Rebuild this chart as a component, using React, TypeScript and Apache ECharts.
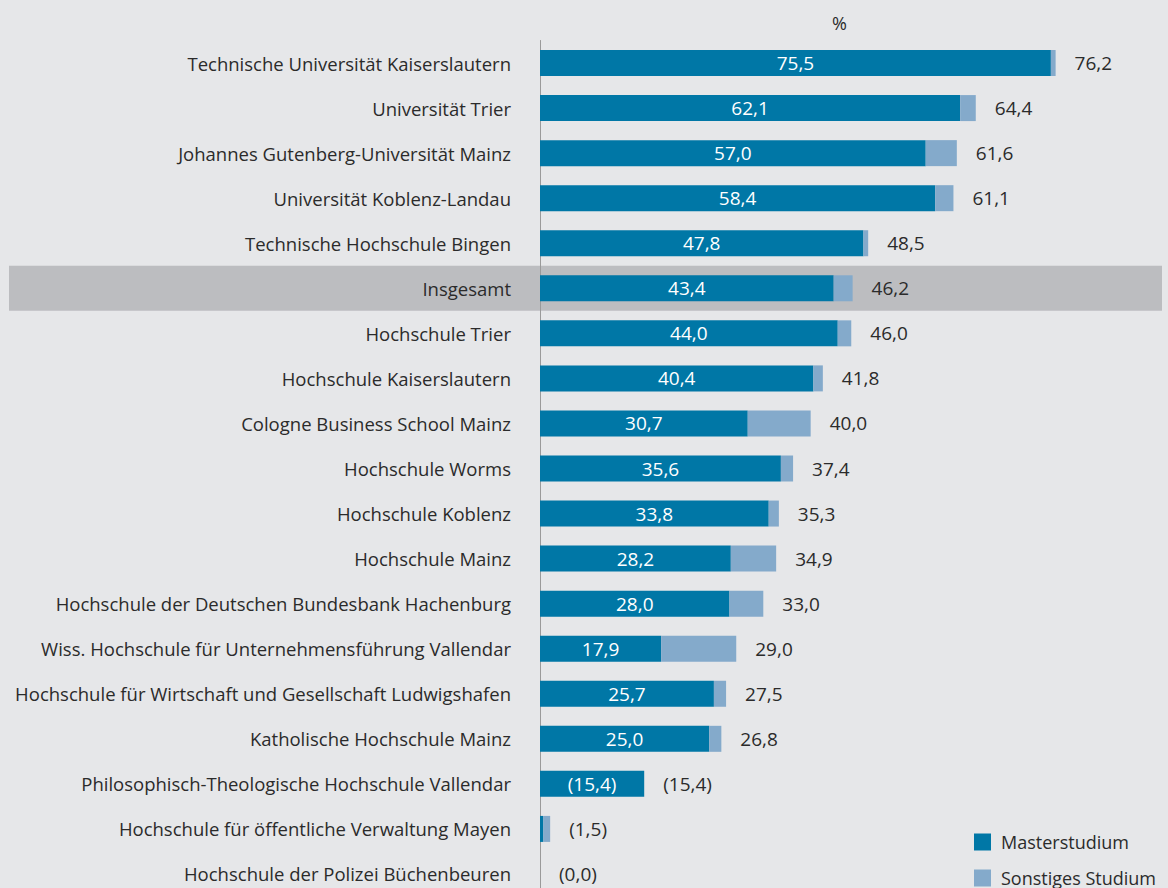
import React, { useEffect, useRef } from "react";
import * as echarts from "echarts";

const categories = [
  "Technische Universität Kaiserslautern",
  "Universität Trier",
  "Johannes Gutenberg-Universität Mainz",
  "Universität Koblenz-Landau",
  "Technische Hochschule Bingen",
  "Insgesamt",
  "Hochschule Trier",
  "Hochschule Kaiserslautern",
  "Cologne Business School Mainz",
  "Hochschule Worms",
  "Hochschule Koblenz",
  "Hochschule Mainz",
  "Hochschule der Deutschen Bundesbank Hachenburg",
  "Wiss. Hochschule für Unternehmensführung Vallendar",
  "Hochschule für Wirtschaft und Gesellschaft Ludwigshafen",
  "Katholische Hochschule Mainz",
  "Philosophisch-Theologische Hochschule Vallendar",
  "Hochschule für öffentliche Verwaltung Mayen",
  "Hochschule der Polizei Büchenbeuren",
];

const masterValues = [75.5, 62.1, 57.0, 58.4, 47.8, 43.4, 44.0, 40.4, 30.7, 35.6, 33.8, 28.2, 28.0, 17.9, 25.7, 25.0, 15.4, 0.5, 0.0];
const totalValues = [76.2, 64.4, 61.6, 61.1, 48.5, 46.2, 46.0, 41.8, 40.0, 37.4, 35.3, 34.9, 33.0, 29.0, 27.5, 26.8, 15.4, 1.5, 0.0];
// values with limited reliability are shown in parentheses
const bracketed = [false, false, false, false, false, false, false, false, false, false, false, false, false, false, false, false, true, true, true];
const showInside = [true, true, true, true, true, true, true, true, true, true, true, true, true, true, true, true, true, false, false];
const otherValues = totalValues.map((t, i) => Math.round((t - masterValues[i]) * 10) / 10);

const highlightCategory = "Insgesamt";
const seriesNames = ["Masterstudium", "Sonstiges Studium"];

const FONT = "'Open Sans', sans-serif";
const TEXT = "#2b2b2b";

const fmt = (v: number, br: boolean) => {
  const s = v.toFixed(1).replace(".", ",");
  return br ? `(${s})` : s;
};

export default function App() {
  const ref = useRef<HTMLDivElement>(null);
  useEffect(() => {
    if (!ref.current) return;
    document.documentElement.style.overflow = "hidden";
    document.body.style.overflow = "hidden";
    const chart = echarts.init(ref.current, undefined, { renderer: "svg" });
    chart.setOption({
      animation: false,
      backgroundColor: "#e6e7e9",
      textStyle: { fontFamily: FONT },
      title: {
        text: "%",
        left: 827,
        top: 9,
        textStyle: { fontFamily: FONT, fontSize: 18, fontWeight: "normal", color: TEXT },
      },
      legend: {
        orient: "vertical",
        left: 974,
        top: 833,
        padding: 0,
        itemWidth: 17,
        itemHeight: 17,
        itemGap: 18,
        icon: "rect",
        data: seriesNames,
        textStyle: { fontFamily: FONT, fontSize: 18, color: TEXT, padding: [0, 0, 0, 5] },
      },
      grid: { left: 540, right: 19, top: 40.5, height: 856, containLabel: false },
      xAxis: {
        type: "value",
        min: 0,
        max: 90,
        show: false,
      },
      yAxis: {
        type: "category",
        inverse: true,
        data: categories,
        axisLine: { show: true, lineStyle: { color: "#9a9a9a", width: 1 } },
        axisTick: { show: false },
        axisLabel: { fontFamily: FONT, fontSize: 18.5, color: TEXT, margin: 29 },
      },
      series: [
        {
          name: seriesNames[0],
          type: "bar",
          stack: "s",
          barWidth: 26,
          itemStyle: { color: "#0077a6" },
          data: masterValues,
          label: {
            show: true,
            position: "inside",
            color: "#ffffff",
            fontFamily: FONT,
            fontSize: 19,
            formatter: (p: any) => (showInside[p.dataIndex] ? fmt(masterValues[p.dataIndex], bracketed[p.dataIndex]) : ""),
          },
          z: 3,
        },
        {
          name: seriesNames[1],
          type: "bar",
          stack: "s",
          barWidth: 26,
          itemStyle: { color: "#84aacb" },
          data: otherValues,
          label: {
            show: true,
            position: "right",
            distance: 19,
            color: TEXT,
            fontFamily: FONT,
            fontSize: 19,
            formatter: (p: any) => fmt(totalValues[p.dataIndex], bracketed[p.dataIndex]),
          },
          z: 3,
        },
      ],
    });

    const idx = categories.indexOf(highlightCategory);
    const yc = chart.convertToPixel({ yAxisIndex: 0 }, categories[idx]) as number;
    const y1 = chart.convertToPixel({ yAxisIndex: 0 }, categories[idx + 1]) as number;
    const band = Math.abs(y1 - yc);
    chart.setOption({
      graphic: [
        {
          type: "rect",
          z: -1,
          zlevel: 0,
          silent: true,
          shape: { x: 9, y: yc - band / 2, width: 1153, height: band },
          style: { fill: "#bcbdc0" },
        },
      ],
    });

    return () => chart.dispose();
  }, []);
  return <div ref={ref} style={{ width: 1168, height: 897, position: "absolute", left: 0, top: 0 }} />;
}
